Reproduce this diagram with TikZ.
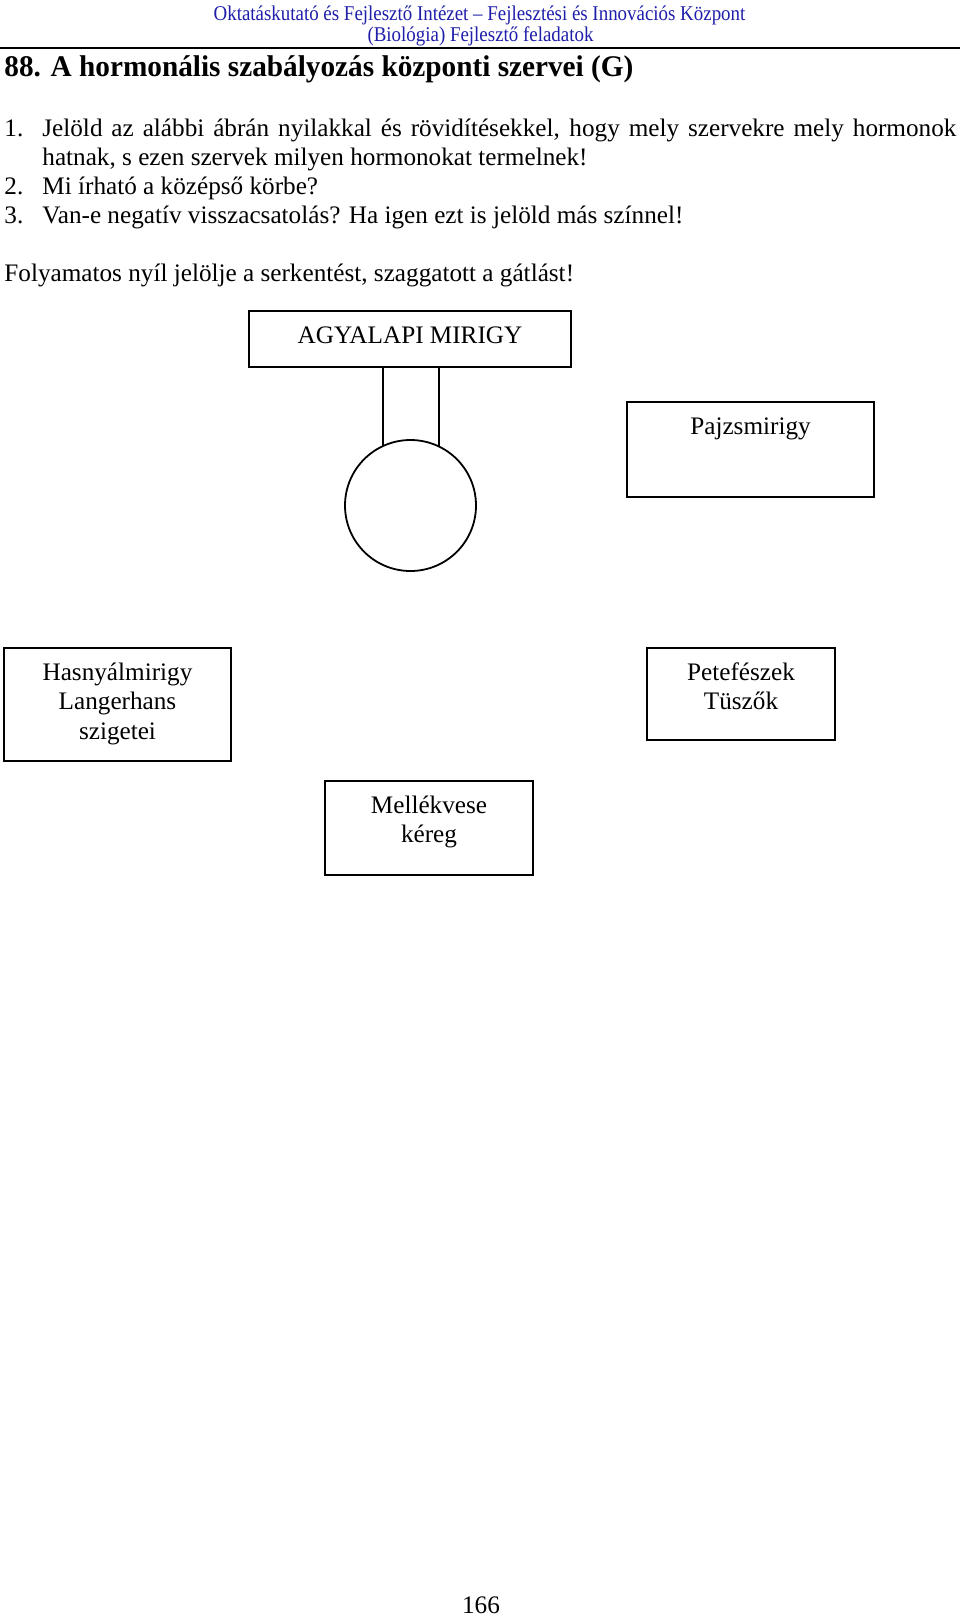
\documentclass[tikz,border=0pt]{standalone}
\usepackage{fontspec}
\setmainfont{Liberation Serif}
\usepackage{graphicx}
\usepackage{tikz}
\usetikzlibrary{positioning}
\definecolor{headblue}{RGB}{30,30,170}

\begin{document}
\begin{tikzpicture}[
        x=0.5pt, y=-0.5pt,
        font=\fontsize{12.6}{14.75}\selectfont,
        box/.style={
            draw,
            line width=0.9pt,
            inner sep=0pt,
            outer sep=0pt
        },
        boxText/.style={
            anchor=base,
            align=center,
            inner sep=0pt
        },
        qText/.style={
            anchor=base west,
            inner sep=0pt
        },
        headText/.style={
            anchor=base,
            inner sep=0pt,
            text=headblue,
            font=\fontsize{10.5}{12}\selectfont
        }
    ]
        \useasboundingbox (0,0) rectangle (960,1618);

        % ---- Header ----
        \node[headText] (head1) at (479.5,20) {\resizebox{265.8pt}{\height}{Oktatáskutató és Fejlesztő Intézet – Fejlesztési és Innovációs Központ}};
        \node[headText] (head2) at (480.5,41) {\resizebox{113pt}{\height}{(Biológia) Fejlesztő feladatok}};
        \draw[line width=1pt] (0,47.8) -- (960,47.8);

        \node[qText, font=\bfseries\fontsize{15}{17}\selectfont] (title) at (4,76) {\resizebox{314.5pt}{\height}{88. A hormonális szabályozás központi szervei (G)}};

        % ---- Questions ----
        \node[qText] (n1) at (4,136) {1.};
        \node[qText] (q1a) at (42,136) {\makebox[457pt][s]{Jelöld az alábbi ábrán nyilakkal és rövidítésekkel, hogy mely szervekre mely hormonok}};
        \node[qText] (q1b) at (42,165) {hatnak, s ezen szervek milyen hormonokat termelnek!};
        \node[qText] (n2) at (4,194) {2.};
        \node[qText] (q2) at (42,194) {Mi írható a középső körbe?};
        \node[qText] (n3) at (4,223) {3.};
        \node[qText] (q3) at (42,223) {Van-e negatív visszacsatolás? Ha igen ezt is jelöld más színnel!};
        \node[qText] (note) at (4,281) {Folyamatos nyíl jelölje a serkentést, szaggatott a gátlást!};

        % ---- Organs ----
        \node[box, minimum width=161pt, minimum height=28pt] (agy) at (410,339) {};
        \node[boxText] (agyText) at ([yshift=-16pt]agy.north) {AGYALAPI MIRIGY};

        \node[box, circle, minimum size=65.5pt] (kor) at (410.5,505.5) {};
        \draw[line width=0.9pt] (kor.115.4) -- (kor.115.4 |- agy.south);
        \draw[line width=0.9pt] (kor.64.6) -- (kor.64.6 |- agy.south);

        \node[box, minimum width=123.5pt, minimum height=47.5pt] (pajzs) at (750.5,449.5) {};
        \node[boxText] (pajzsText) at ([yshift=-16pt]pajzs.north) {Pajzsmirigy};

        % base of a multi-line label is its last line
        \node[box, minimum width=113.5pt, minimum height=56.5pt] (hasny) at (117.5,704.5) {};
        \node[boxText] (hasnyText) at ([yshift=-45.5pt]hasny.north) {Hasnyálmirigy\\Langerhans\\szigetei};

        \node[box, minimum width=94pt, minimum height=46pt] (pete) at (741,694) {};
        \node[boxText] (peteText) at ([yshift=-30.75pt]pete.north) {Petefészek\\Tüszők};

        \node[box, minimum width=104pt, minimum height=47pt] (mell) at (429,828) {};
        \node[boxText] (mellText) at ([yshift=-30.75pt]mell.north) {Mellékvese\\kéreg};

        % ---- Page number ----
        \node[boxText] (page) at (481,1613) {166};

    \end{tikzpicture}
\end{document}
